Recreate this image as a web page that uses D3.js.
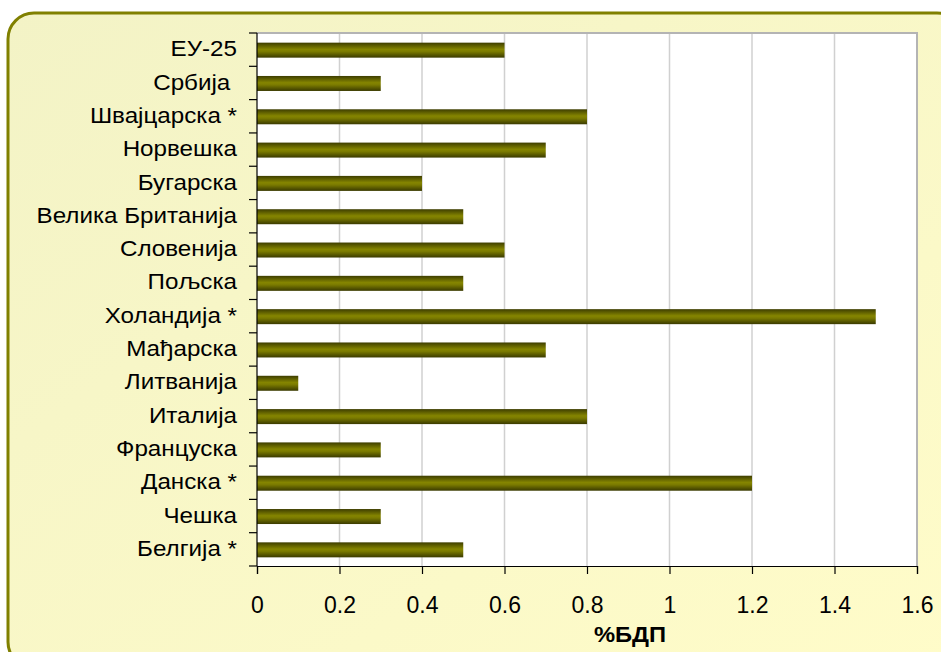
<!DOCTYPE html>
<html lang="sr">
<head>
<meta charset="UTF-8">
<title>%БДП</title>
<script src="https://cdn.jsdelivr.net/npm/d3@7"></script>
<style>
  body { margin: 0; background: #fff; }
  svg { display: block; font-family: "Liberation Sans", Arial, sans-serif; }
</style>
</head>
<body>
<script>
// categories, top to bottom
var countries = ['ЕУ-25', 'Србија ', 'Швајцарска *', 'Норвешка', 'Бугарска', 'Велика Британија',
    'Словенија', 'Пољска', 'Холандија *', 'Мађарска', 'Литванија', 'Италија',
    'Француска', 'Данска *', 'Чешка', 'Белгија *'];
var values = [0.6, 0.3, 0.8, 0.7, 0.4, 0.5, 0.6, 0.5, 1.5, 0.7, 0.1, 0.8, 0.3, 1.2, 0.3, 0.5];
var xTicks = [0, 0.2, 0.4, 0.6, 0.8, 1, 1.2, 1.4, 1.6];
var xTitle = '%БДП';

var width = 941, height = 652;
var plot = { left: 257, right: 917, top: 33, bottom: 566 };

var svg = d3.select('body').append('svg')
    .attr('width', width)
    .attr('height', height);

var defs = svg.append('defs');
// background gradient of the frame
var bg = defs.append('linearGradient').attr('id', 'bg')
    .attr('x1', '0').attr('y1', '0').attr('x2', '1').attr('y2', '1');
bg.append('stop').attr('offset', '0').attr('stop-color', '#f3f3c6');
bg.append('stop').attr('offset', '1').attr('stop-color', '#fffcc9');

// bar shading, dark edges and lighter middle
var bar = defs.append('linearGradient').attr('id', 'bar')
    .attr('x1', '0').attr('y1', '0').attr('x2', '0').attr('y2', '1');
[[0, '#3d3d00'], [0.2, '#5e5e00'], [0.45, '#858500'], [0.6, '#7a7a00'], [0.8, '#5a5a00'], [1, '#3a3a00']]
    .forEach(function(s) {
        bar.append('stop').attr('offset', s[0]).attr('stop-color', s[1]);
    });

// frame
svg.append('rect')
    .attr('x', 8).attr('y', 13)
    .attr('width', 955).attr('height', 655)
    .attr('rx', 26).attr('ry', 26)
    .attr('fill', 'url(#bg)')
    .attr('stroke', '#808000')
    .attr('stroke-width', 3);

var x = d3.scaleLinear().domain([0, 1.6]).range([plot.left, plot.right]);
var y = d3.scaleBand().domain(countries).range([plot.top, plot.bottom]);

// plot area
svg.append('rect')
    .attr('x', plot.left).attr('y', plot.top)
    .attr('width', plot.right - plot.left).attr('height', plot.bottom - plot.top)
    .attr('fill', '#fff');

// vertical gridlines
svg.selectAll('.grid')
    .data(xTicks.slice(1))
    .enter()
    .append('line')
    .attr('class', 'grid')
    .attr('x1', function(d) { return x(d); })
    .attr('x2', function(d) { return x(d); })
    .attr('y1', plot.top)
    .attr('y2', plot.bottom)
    .attr('stroke', '#d0d0d0')
    .attr('stroke-width', 1.5);

// top and right border of the plot
svg.append('path')
    .attr('d', 'M' + plot.left + ',' + plot.top + 'H' + plot.right + 'V' + plot.bottom)
    .attr('fill', 'none')
    .attr('stroke', '#b4b4b4')
    .attr('stroke-width', 2);

// bars
var barH = 15;
svg.selectAll('.bar')
    .data(values)
    .enter()
    .append('rect')
    .attr('class', 'bar')
    .attr('x', x(0))
    .attr('y', function(d, i) { return y(countries[i]) + y.bandwidth() / 2 - barH / 2 + 0.5; })
    .attr('width', function(d) { return x(d) - x(0); })
    .attr('height', barH)
    .attr('fill', 'url(#bar)');

// x axis
var xAxis = d3.axisBottom(x)
    .tickValues(xTicks)
    .tickFormat(function(d) { return String(d); })
    .tickSize(8)
    .tickPadding(23);
var gx = svg.append('g')
    .attr('transform', 'translate(0,' + plot.bottom + ')')
    .call(xAxis);
gx.select('.domain').attr('stroke', '#000').attr('stroke-width', 1.2);
gx.selectAll('.tick line').attr('stroke', '#000').attr('stroke-width', 1.2);
gx.selectAll('.tick text')
    .attr('font-size', 23)
    .attr('font-family', '"Liberation Sans", Arial, sans-serif')
    .attr('fill', '#000');

// y axis: category ticks sit at the band boundaries
var gy = svg.append('g');
gy.append('line')
    .attr('x1', plot.left).attr('x2', plot.left)
    .attr('y1', plot.top).attr('y2', plot.bottom)
    .attr('stroke', '#000').attr('stroke-width', 1.2);
var bounds = countries.map(function(c) { return y(c); }).concat([plot.bottom]);
gy.selectAll('.yt')
    .data(bounds)
    .enter()
    .append('line')
    .attr('class', 'yt')
    .attr('x1', plot.left - 8).attr('x2', plot.left)
    .attr('y1', function(d) { return d; })
    .attr('y2', function(d) { return d; })
    .attr('stroke', '#000').attr('stroke-width', 1.2);
gy.selectAll('.ylab')
    .data(countries)
    .enter()
    .append('text')
    .attr('class', 'ylab')
    .attr('transform', function(d) {
        return 'translate(' + (plot.left - 20) + ',' + (y(d) + y.bandwidth() / 2) + ') scale(1.1,1)';
    })
    .attr('dy', '0.3em')
    .attr('text-anchor', 'end')
    .attr('font-size', 22)
    .attr('fill', '#000')
    .style('white-space', 'pre')
    .text(function(d) { return d; });

// axis title
svg.append('text')
    .attr('transform', 'translate(630,642) scale(1.08,1)')
    .attr('text-anchor', 'middle')
    .attr('font-size', 22)
    .attr('font-weight', 'bold')
    .text(xTitle);
</script>
</body>
</html>
